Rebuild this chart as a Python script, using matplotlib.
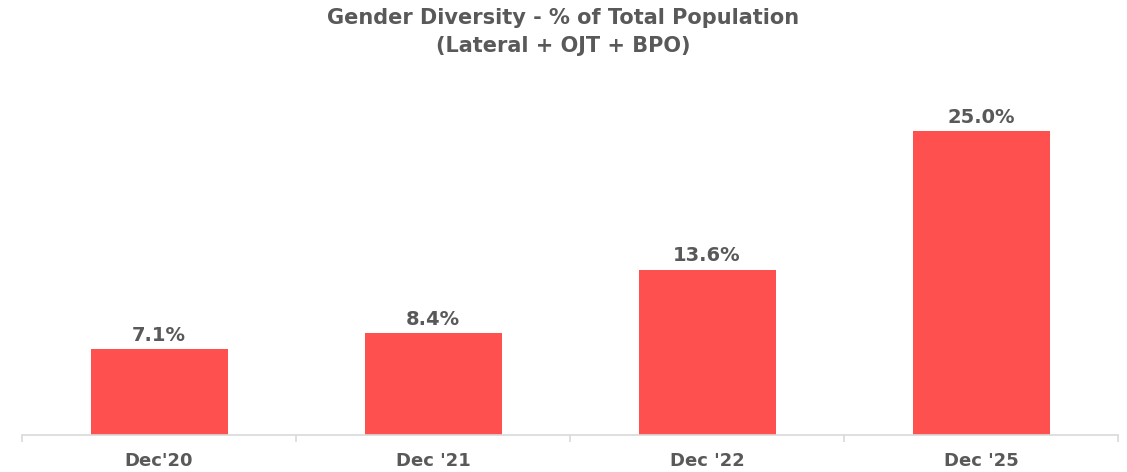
import matplotlib
matplotlib.use("Agg")
import matplotlib.pyplot as plt

categories = ["Dec'20", "Dec '21", "Dec '22", "Dec '25"]
values = [7.1, 8.4, 13.6, 25.0]
value_labels = ["7.1%", "8.4%", "13.6%", "25.0%"]
title_lines = ["Gender Diversity - % of Total Population", "(Lateral + OJT + BPO)"]

plt.rcParams['font.family'] = ['DejaVu Sans']
text_color = "#595959"
bar_color = "#FF5050"

fig = plt.figure(figsize=(11.27, 4.72), dpi=100)
ax = fig.add_axes([22/1127, 37/472, 1096/1127, 355/472])

x = list(range(len(categories)))
bars = ax.bar(x, values, width=0.5, color=bar_color)
ax.set_xlim(-0.5, len(categories) - 0.5)
ax.set_ylim(0, 29.2)

for xi, v, lab in zip(x, values, value_labels):
    ax.annotate(lab, (xi, v), xytext=(0, 3), textcoords="offset points",
                ha="center", va="bottom", fontsize=14, fontweight="bold", color=text_color)

for s in ["top", "right", "left"]:
    ax.spines[s].set_visible(False)
ax.spines["bottom"].set_color("#d9d9d9")
ax.spines["bottom"].set_linewidth(1.2)
ax.set_yticks([])

ax.set_xticks(x)
ax.set_xticklabels(categories, fontsize=13, fontweight="bold", color=text_color)
ax.tick_params(axis="x", length=0, pad=12)
ax.set_xticks([i - 0.5 for i in range(len(categories) + 1)], minor=True)
ax.tick_params(axis="x", which="minor", length=5, color="#d9d9d9", width=1.2)

fig.text(0.5, 1 - 18/472, title_lines[0], ha="center", va="center",
         fontsize=15, fontweight="bold", color=text_color)
fig.text(0.5, 1 - 46/472, title_lines[1], ha="center", va="center",
         fontsize=15, fontweight="bold", color=text_color)

fig.savefig("out.png", dpi=100)
